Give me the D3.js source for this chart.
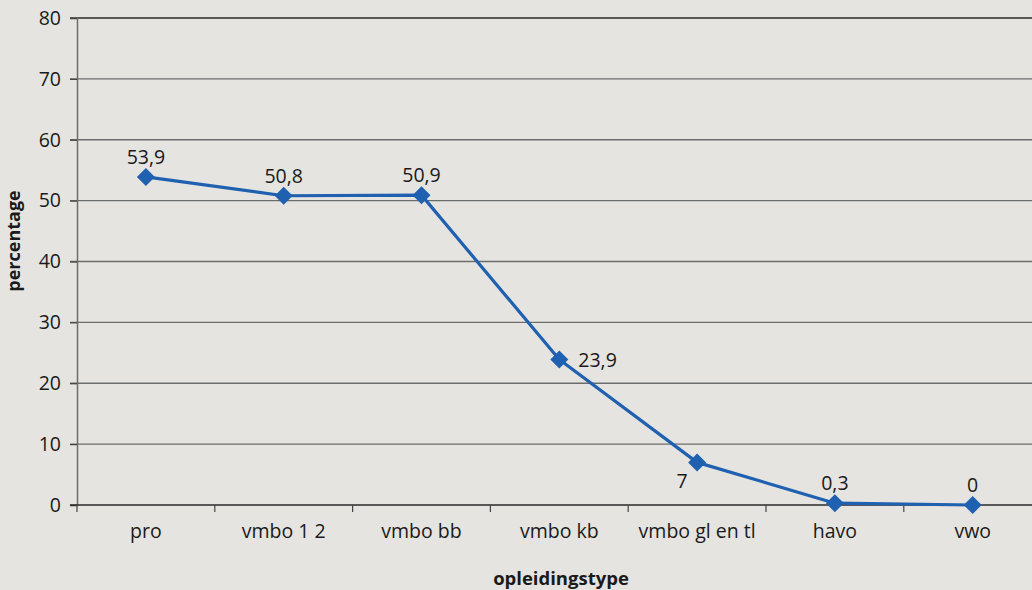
<!DOCTYPE html>
<html>
<head>
<meta charset="utf-8">
<script src="https://cdn.jsdelivr.net/npm/d3@7"></script>
<style>
  html, body { margin: 0; padding: 0; background: #e5e4e0; }
  svg { display: block; }
  text { font-family: "Open Sans", "Noto Sans", sans-serif; fill: #1a1a1a; }
</style>
</head>
<body>
<svg id="chart" width="1032" height="590"></svg>
<script>
// Share per opleidingstype (percentage)
const categories = ["pro", "vmbo 1 2", "vmbo bb", "vmbo kb", "vmbo gl en tl", "havo", "vwo"];
const values = [53.9, 50.8, 50.9, 23.9, 7, 0.3, 0];
const valueLabels = ["53,9", "50,8", "50,9", "23,9", "7", "0,3", "0"];
// where each value label sits relative to its point
const labelPlacement = ["above", "above", "above", "right", "belowLeft", "above", "above"];
const yTicks = [0, 10, 20, 30, 40, 50, 60, 70, 80];

const svg = d3.select("#chart");
const W = 1032, H = 590;
const plotLeft = 77, plotTop = 18, plotBottom = 505;
const bandW = 137.8;
const plotRight = plotLeft + bandW * categories.length;
const fs = 19.5;

const x = d3.scaleBand().domain(categories).range([plotLeft, plotRight]).padding(0);
const y = d3.scaleLinear().domain([0, 80]).range([plotBottom, plotTop]);

// horizontal gridlines
svg.append("g")
  .selectAll("line")
  .data(yTicks.filter(d => d > 0))
  .join("line")
  .attr("x1", plotLeft - 7).attr("x2", W)
  .attr("y1", d => y(d)).attr("y2", d => y(d))
  .attr("stroke", d => d === 80 ? "#2a2a2a" : "#6c6c6c")
  .attr("stroke-width", 1.3);

// y axis
const yAxis = svg.append("g")
  .attr("transform", `translate(${plotLeft},0)`)
  .call(d3.axisLeft(y).tickValues(yTicks).tickSize(7).tickPadding(9).tickFormat(d3.format("d")));
yAxis.select(".domain").attr("stroke", "#6c6c6c").attr("stroke-width", 1.5);
yAxis.selectAll(".tick line").attr("stroke", "#444").attr("stroke-width", 1.2);
yAxis.selectAll(".tick text").attr("font-size", fs).attr("fill", "#1a1a1a")
  .style("font-family", "'Open Sans', sans-serif");

// x axis baseline and category boundary ticks
svg.append("line")
  .attr("x1", plotLeft - 7).attr("x2", W)
  .attr("y1", plotBottom).attr("y2", plotBottom)
  .attr("stroke", "#2a2a2a").attr("stroke-width", 1.4);

const boundaries = categories.map(c => x(c)).concat([plotRight]);
svg.append("g")
  .selectAll("line")
  .data(boundaries)
  .join("line")
  .attr("x1", d => d).attr("x2", d => d)
  .attr("y1", plotBottom).attr("y2", plotBottom + 7)
  .attr("stroke", "#444").attr("stroke-width", 1.2);

// category labels
svg.append("g")
  .selectAll("text")
  .data(categories)
  .join("text")
  .attr("x", d => x(d) + x.bandwidth() / 2)
  .attr("y", 538)
  .attr("text-anchor", "middle")
  .attr("font-size", fs)
  .text(d => d);

// axis titles
svg.append("text")
  .attr("x", 561).attr("y", 585)
  .attr("text-anchor", "middle")
  .attr("font-size", 18.5).attr("font-weight", "bold")
  .text("opleidingstype");

svg.append("text")
  .attr("transform", "translate(20,241) rotate(-90)")
  .attr("text-anchor", "middle")
  .attr("font-size", 18).attr("font-weight", "bold")
  .text("percentage");

// series line
const pts = categories.map((c, i) => ({ c, v: values[i], lab: valueLabels[i], pos: labelPlacement[i] }));
const cx = d => x(d.c) + x.bandwidth() / 2;

svg.append("path")
  .datum(pts)
  .attr("fill", "none")
  .attr("stroke", "#1f61b0")
  .attr("stroke-width", 3.2)
  .attr("stroke-linejoin", "round")
  .attr("d", d3.line().x(cx).y(d => y(d.v)));

// diamond markers
svg.append("g")
  .selectAll("path")
  .data(pts)
  .join("path")
  .attr("transform", d => `translate(${cx(d)},${y(d.v)})`)
  .attr("d", "M0,-9 L9,0 L0,9 L-9,0 Z")
  .attr("fill", "#1f61b0");

// value labels
svg.append("g")
  .selectAll("text")
  .data(pts)
  .join("text")
  .attr("x", d => d.pos === "right" ? cx(d) + 19 : d.pos === "belowLeft" ? cx(d) - 15 : cx(d))
  .attr("y", d => d.pos === "right" ? y(d.v) + 7 : d.pos === "belowLeft" ? y(d.v) + 26 : y(d.v) - 13)
  .attr("text-anchor", d => d.pos === "right" ? "start" : "middle")
  .attr("font-size", fs)
  .text(d => d.lab);
</script>
</body>
</html>
